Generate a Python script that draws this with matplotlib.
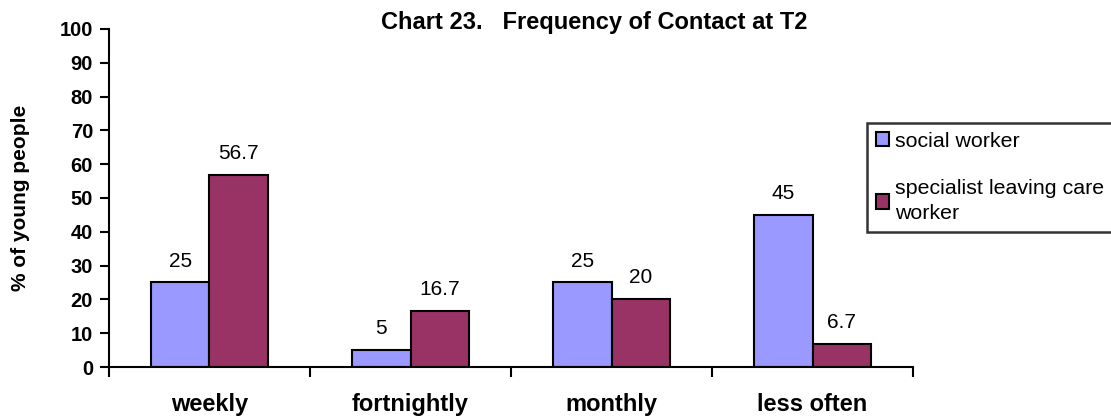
import numpy as np
import matplotlib.pyplot as plt
from matplotlib.patches import Patch

plt.rcParams["font.family"] = ["Liberation Sans", "DejaVu Sans"]

categories = ["weekly", "fortnightly", "monthly", "less often"]
social_worker = [25, 5, 25, 45]
specialist = [56.7, 16.7, 20, 6.7]
series_names = ["social worker", "specialist leaving care\nworker"]
colors = ["#9999FF", "#993366"]


def fmt(v):
    return f"{v:g}"


fig = plt.figure(figsize=(11.11, 4.17), dpi=100)
ax = fig.add_axes([0.0981, 0.1199, 0.7237, 0.8106])

x = np.arange(len(categories))
w = 0.29
ax.bar(x - w / 2, social_worker, w, color=colors[0], edgecolor="black", linewidth=1.5)
ax.bar(x + w / 2, specialist, w, color=colors[1], edgecolor="black", linewidth=1.5)

for xs, vals in [(x - w / 2, social_worker), (x + w / 2, specialist)]:
    for xi, v in zip(xs, vals):
        ax.annotate(fmt(v), (xi, v), xytext=(0, 11.5), textcoords="offset points",
                    ha="center", va="baseline", fontsize=15)

ax.set_xlim(-0.5, len(categories) - 0.5)
ax.set_ylim(0, 100)
ax.set_yticks(range(0, 101, 10))
ax.set_xticks(np.arange(-0.5, len(categories), 1.0))
ax.set_xticklabels([])
ax.set_xticks(x, minor=True)
ax.set_xticklabels(categories, minor=True, fontsize=17, fontweight="bold")
ax.tick_params(axis="x", which="minor", length=0, pad=19)
ax.tick_params(axis="x", which="major", length=7, width=1.5, direction="out")
ax.tick_params(axis="y", length=6.5, width=1.5, direction="out", labelsize=14.5, pad=5)
for lab in ax.get_yticklabels():
    lab.set_fontweight("bold")

for s in ["top", "right"]:
    ax.spines[s].set_visible(False)
for s in ["left", "bottom"]:
    ax.spines[s].set_linewidth(1.5)

ax.set_ylabel("% of young people", fontsize=15, fontweight="bold")
ax.yaxis.set_label_coords(-0.098, 0.5)
fig.text(0.535, 1 - 29 / 417, "Chart 23.   Frequency of Contact at T2", ha="center",
         va="baseline", fontsize=17, fontweight="bold")

handles = [Patch(facecolor=c, edgecolor="black", linewidth=1.5) for c in colors]
leg = fig.legend(handles, series_names, loc="upper left",
                 bbox_to_anchor=(867 / 1111, 1 - 123 / 417), fontsize=15.4,
                 frameon=True, fancybox=False, edgecolor="black",
                 handlelength=0.65, handleheight=0.65, handletextpad=0.25,
                 labelspacing=1.35, borderpad=0.4, borderaxespad=0)
leg.get_frame().set_linewidth(1.8)
for t in leg.get_texts():
    t.set_linespacing(1.4)

fig.savefig("out.png", dpi=100)
